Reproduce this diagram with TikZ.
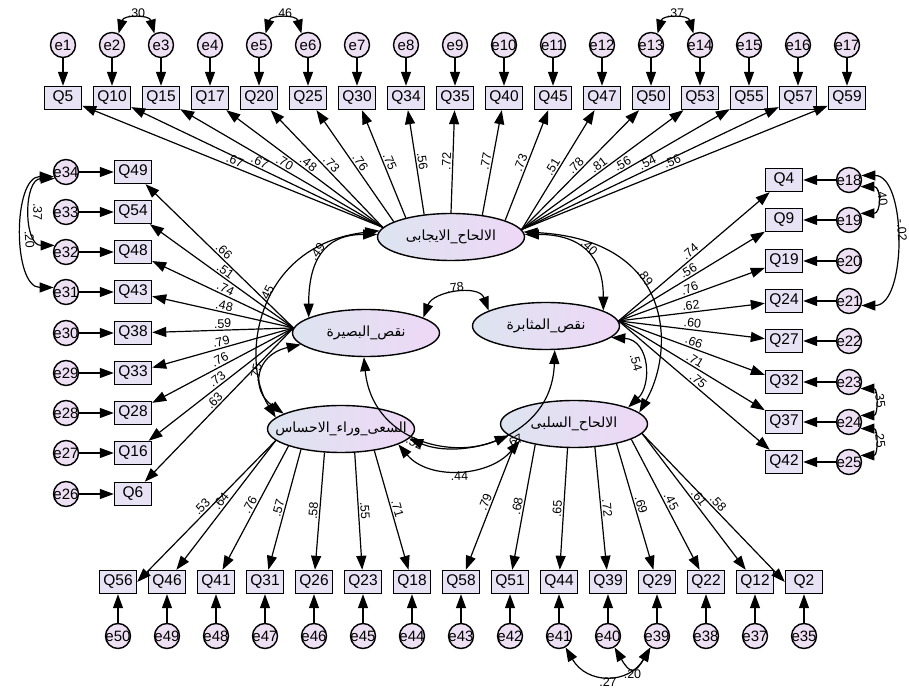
\documentclass[tikz,border=0pt]{standalone}
\usepackage{fontspec}
\setmainfont{Liberation Sans}
\newfontfamily\arabicfont[Script=Arabic]{DejaVu Sans}
\TeXXeTstate=1
\usetikzlibrary{arrows.meta, shapes.geometric, positioning}

\definecolor{obsfill}{RGB}{232,226,245}
\definecolor{errfill}{RGB}{238,224,243}
\definecolor{latleft}{RGB}{221,228,240}
\definecolor{latright}{RGB}{238,216,246}

\newcommand{\arlabel}[1]{\makebox[0pt]{\arabicfont\beginR #1\endR}}

\begin{document}
\begin{tikzpicture}[
        x=1pt, y=1pt,
        line width=1.2pt,
        >={Triangle[length=14pt,width=10pt]},
        obs/.style={rectangle, draw, line width=1.4pt, fill=obsfill, minimum width=37pt, minimum height=23pt, inner sep=0pt, font=\fontsize{15.5}{16}\selectfont},
        err/.style={circle, draw, line width=1.4pt, fill=errfill, minimum size=25pt, inner sep=0pt, font=\fontsize{15}{16}\selectfont},
        lat/.style={ellipse, draw, line width=1.4pt, left color=latleft, right color=latright, minimum width=147pt, minimum height=47pt, inner sep=0pt, font=\fontsize{14}{15}\selectfont},
        lbl/.style={sloped, inner sep=1.5pt, font=\fontsize{12.5}{13}\selectfont}
    ]
    \useasboundingbox (0,0) rectangle (909,693);

    % latent factors
    \node[lat] (pos) at (451,456) {\arlabel{الالحاح\_الايجابى}};
    \node[lat] (ins) at (366,360) {\arlabel{نقص\_البصيرة}};
    \node[lat] (per) at (546,367) {\arlabel{نقص\_المثابرة}};
    \node[lat] (sen) at (341,264) {\arlabel{السعى\_وراء\_الاحساس}};
    \node[lat] (neg) at (574,269) {\arlabel{الالحاح\_السلبى}};

    % top row
    \foreach \q/\e/\x in {5/1/63, 10/2/112, 15/3/161, 17/4/210, 20/5/259, 25/6/308, 30/7/357, 34/8/406, 35/9/455, 40/10/504, 45/11/553, 47/12/602, 50/13/651, 53/14/700, 55/15/749, 57/16/798, 59/17/847} {
        \node[obs] (Q\q) at (\x,595) {Q\q};
        \node[err] (e\e) at (\x,648) {\makebox[0pt]{e\e}};
        \draw[->] (e\e) -- (Q\q);
    }
    \foreach \q/\ang/\v in {5/172/.67, 10/172/.67, 15/172/.70, 17/172/.48, 20/172/.73, 25/165/.76, 30/157/.75, 34/140/.56, 35/90/.72, 40/35/.77, 45/17/.73, 47/6/.51, 50/6/.78, 53/6/.81, 55/6/.56, 57/6/.54, 59/6/.56}
        \draw[->] (pos.\ang) -- node[lbl, above] {\v} (Q\q);

    % left column
    \foreach \q/\e/\y in {49/34/521, 54/33/481, 48/32/441, 43/31/401, 38/30/360, 33/29/320, 28/28/280, 16/27/240, 6/26/199} {
        \node[obs] (Q\q) at (133,\y) {Q\q};
        \node[err] (e\e) at (66,\y) {\makebox[0pt]{e\e}};
        \draw[->] (e\e) -- (Q\q);
    }
    \foreach \q/\v in {49/.66, 54/.51, 48/.74, 43/.48, 38/.59, 33/.79, 28/.76, 16/.73, 6/.63}
        \draw[->] (ins.176) -- node[lbl, above] {\v} (Q\q);

    % right column
    \foreach \q/\e/\y in {4/18/513, 9/19/473, 19/20/432, 24/21/392, 27/22/352, 32/23/311, 37/24/271, 42/25/231} {
        \node[obs] (Q\q) at (784,\y) {Q\q};
        \node[err] (e\e) at (849,\y) {\makebox[0pt]{e\e}};
        \draw[->] (e\e) -- (Q\q);
    }
    \foreach \q/\v in {4/.74, 9/.56, 19/.76, 24/.62, 27/.60, 32/.66, 37/.71, 42/.75}
        \draw[->] (per.4) -- node[lbl, above] {\v} (Q\q);

    % bottom row
    \foreach \q/\e/\x in {56/50/118, 46/49/167, 41/48/216, 31/47/265, 26/46/314, 23/45/363, 18/44/412, 58/43/461, 51/42/510, 44/41/559, 39/40/608, 29/39/657, 22/38/706, 12/37/755, 2/35/804} {
        \node[obs] (Q\q) at (\x,111) {Q\q};
        \node[err] (e\e) at (\x,57) {\makebox[0pt]{e\e}};
        \draw[->] (e\e) -- (Q\q);
    }
    \draw[->] (sen.190) -- node[lbl, above] {.53} (Q56.east);
    \foreach \q/\ang/\v in {46/190/.64, 41/198/.76, 31/207/.57, 26/235/.58, 23/300/.55, 18/327/.71}
        \draw[->] (sen.\ang) -- node[lbl, above] {\v} (Q\q);
    \foreach \q/\ang/\v in {58/195/.79, 51/208/.68, 44/255/.65, 39/312/.72, 29/335/.69, 22/345/.45, 12/352/.61}
        \draw[->] (neg.\ang) -- node[lbl, above] {\v} (Q\q);
    \draw[->] (neg.352) -- node[lbl, above] {.58} (Q2.west);

    % factor covariances
    \draw[<->] (ins.165) to[out=90, in=180, looseness=1.3] node[lbl, above] {.49} (pos.178);
    \draw[<->] (pos.2) to[out=0, in=90, looseness=1.3] node[lbl, above] {.40} (per.15);
    \draw[<->] (pos.175) .. controls (255,448) and (240,333) .. (sen.170) node[lbl, above, pos=0.45] {.45};
    \draw[<->] (pos.4) .. controls (675,453) and (675,343) .. (neg.10) node[lbl, above, pos=0.4] {.89};
    \draw[<->] (ins.15) to[out=70, in=110, looseness=1.1] node[lbl, above] {.78} (per.165);
    \draw[<->] (ins.190) .. controls (255,338) and (250,303) .. (sen.165) node[lbl, above, pos=0.5] {.75};
    \draw[<->] (per.350) .. controls (650,353) and (652,308) .. (neg.17) node[lbl, below, pos=0.45] {.54};
    \draw[<->] (ins.265) .. controls (372,253) and (450,233) .. (neg.190) node[lbl, below, pos=0.5] {.52};
    \draw[<->] (per.290) .. controls (552,253) and (460,233) .. (sen.352) node[lbl, below=5pt, pos=0.45] {.67};
    \draw[<->] (sen.345) to[out=-50, in=230] node[lbl, below] {.44} (neg.197);

    % error covariances
    \draw[<->] (e2.60) to[out=75, in=105, looseness=1.4] node[lbl, above] {.30} (e3.120);
    \draw[<->] (e5.60) to[out=75, in=105, looseness=1.4] node[lbl, above] {.46} (e6.120);
    \draw[<->] (e13.60) to[out=75, in=105, looseness=1.4] node[lbl, above] {.37} (e14.120);
    \draw[<->] (e34.210) to[out=180, in=180, looseness=1.2] node[lbl, above, pos=0.5] {.37} (e32.150);
    \draw[<->] (e34.200) to[out=180, in=180, looseness=0.95] node[lbl, above, pos=0.55] {.20} (e31.160);
    \draw[<->] (e18.330) to[out=0, in=0, looseness=2] node[lbl, above, pos=0.45] {.40} (e19.30);
    \draw[<->] (e18.20) to[out=0, in=0, looseness=0.9] node[lbl, above, pos=0.45] {-.02} (e21.340);
    \draw[<->] (e23.330) to[out=0, in=0, looseness=1.7] node[lbl, above, pos=0.45] {.35} (e24.30);
    \draw[<->] (e24.330) to[out=0, in=0, looseness=1.7] node[lbl, above, pos=0.45] {.25} (e25.30);
    \draw[<->] (e41.300) to[out=-60, in=240, looseness=1.3] node[lbl, below] {.27} (e39.240);
    \draw[<->] (e40.300) to[out=-60, in=240, looseness=2.2] node[lbl, below] {.20} (e39.240);
\end{tikzpicture}
\end{document}
